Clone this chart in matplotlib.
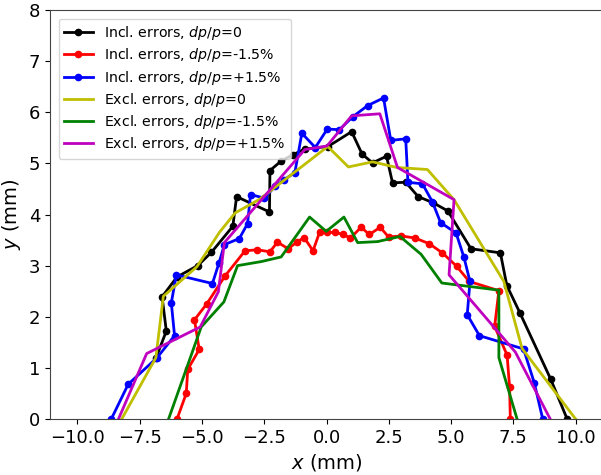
import numpy as np
import matplotlib
matplotlib.use('Agg')
import matplotlib.pyplot as plt

# beam envelope data (mm)
incl_0_x = [-6.84, -6.43, -6.60, -6.00, -5.17, -4.62, -3.76, -3.61, -2.29, -2.27, -1.81, -1.34,
            -0.88, 0.06, 1.01, 1.43, 1.85, 2.41, 2.65, 3.18, 3.68, 4.28, 4.87, 5.80, 6.98, 7.24,
            7.77, 9.00, 9.66]
incl_0_y = [1.20, 1.72, 2.39, 2.78, 3.00, 3.26, 3.77, 4.35, 4.05, 4.86, 5.05, 5.17,
            5.28, 5.33, 5.62, 5.18, 5.01, 5.14, 4.62, 4.63, 4.35, 4.23, 4.07, 3.33, 3.25, 2.61,
            2.07, 0.78, 0.00]

incl_m_x = [-6.00, -5.63, -5.57, -5.11, -5.30, -4.81, -4.07, -3.27, -2.77, -2.27, -1.97, -1.54,
            -1.19, -0.90, -0.54, -0.28, 0.03, 0.35, 0.66, 0.96, 1.39, 1.72, 2.16, 2.49, 3.01,
            3.55, 4.12, 4.65, 5.22, 5.73, 6.92, 6.75, 7.25, 7.35, 7.38]
incl_m_y = [0.00, 0.50, 0.97, 1.36, 1.94, 2.25, 2.80, 3.29, 3.31, 3.27, 3.46, 3.33,
            3.46, 3.55, 3.29, 3.65, 3.65, 3.65, 3.61, 3.54, 3.75, 3.61, 3.75, 3.56, 3.58,
            3.54, 3.43, 3.25, 2.99, 2.69, 2.51, 1.81, 1.25, 0.62, 0.00]

incl_p_x = [-8.64, -7.96, -6.80, -6.10, -6.23, -6.03, -4.58, -4.31, -4.10, -3.50, -3.17, -3.05,
            -2.49, -2.07, -1.70, -1.27, -0.99, -0.45, 0.03, 0.52, 1.05, 1.65, 2.29, 2.58, 3.18,
            3.27, 3.85, 4.25, 4.58, 5.20, 5.52, 5.76, 5.65, 6.14, 7.91, 8.34, 8.68]
incl_p_y = [0.00, 0.68, 1.20, 1.63, 2.27, 2.82, 2.65, 3.06, 3.41, 3.53, 3.82, 4.39,
            4.32, 4.55, 4.68, 4.82, 5.59, 5.31, 5.67, 5.66, 5.91, 6.13, 6.28, 5.45, 5.48,
            4.63, 4.60, 4.25, 3.84, 3.64, 3.16, 2.69, 2.04, 1.63, 1.37, 0.71, 0.00]

excl_0_x = [-8.22, -6.85, -6.55, -5.20, -4.30, -3.67, -2.68, 0.05, 0.88, 1.85, 2.82, 4.05,
            5.12, 7.12, 7.85, 10.00]
excl_0_y = [0.00, 1.20, 2.40, 2.98, 3.65, 4.03, 4.30, 5.33, 4.93, 5.03, 4.92, 4.88,
            4.29, 2.69, 1.38, 0.00]

excl_m_x = [-6.34, -5.03, -4.12, -3.57, -2.61, -1.82, -0.68, -0.01, 0.70, 1.25, 2.05, 2.95,
            3.80, 4.63, 6.92, 6.92, 7.65]
excl_m_y = [0.00, 1.80, 2.29, 3.00, 3.08, 3.17, 3.95, 3.67, 3.95, 3.45, 3.47, 3.57,
            3.22, 2.66, 2.52, 1.20, 0.00]

excl_p_x = [-8.35, -7.22, -5.07, -4.34, -4.10, -0.87, 0.02, 1.01, 2.14, 2.85, 5.12, 4.92,
            7.58, 8.98]
excl_p_y = [0.00, 1.28, 1.80, 2.49, 3.45, 5.27, 5.34, 5.93, 5.97, 4.92, 4.29, 2.82,
            1.31, 0.00]

fig = plt.figure(figsize=(6.01, 4.75), dpi=100)
ax = fig.add_axes([50 / 601, 56 / 475, 553 / 601, 409 / 475])

lw = 2
ax.plot(incl_0_x, incl_0_y, 'k.-', lw=lw, ms=9, label='Incl. errors, $dp/p$=0')
ax.plot(incl_m_x, incl_m_y, 'r.-', lw=lw, ms=9, label='Incl. errors, $dp/p$=-1.5%')
ax.plot(incl_p_x, incl_p_y, 'b.-', lw=lw, ms=9, label='Incl. errors, $dp/p$=+1.5%')
ax.plot(excl_0_x, excl_0_y, 'y-', lw=lw, label='Excl. errors, $dp/p$=0')
ax.plot(excl_m_x, excl_m_y, 'g-', lw=lw, label='Excl. errors, $dp/p$=-1.5%')
ax.plot(excl_p_x, excl_p_y, 'm-', lw=lw, label='Excl. errors, $dp/p$=+1.5%')

ax.set_xlim(-11.1, 11.1)
ax.set_ylim(0, 8)
ax.set_xticks(np.arange(-10, 10.1, 2.5))
ax.tick_params(labelsize=13)
ax.set_xlabel('$x$ (mm)', fontsize=14)
ax.set_ylabel('$y$ (mm)', fontsize=14)
for s in ax.spines.values():
    s.set_color('#444444')

ax.legend(loc='upper left', fontsize=10.2, labelspacing=0.3, borderaxespad=0.6)

fig.savefig('out.png', dpi=100)
